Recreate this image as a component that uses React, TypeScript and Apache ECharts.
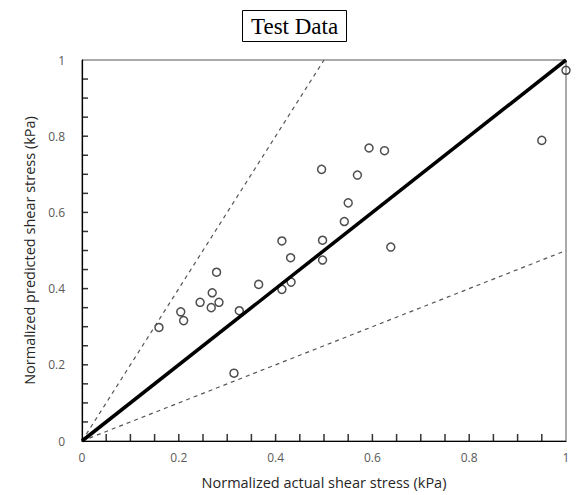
import React, { useEffect, useRef } from "react";
import * as echarts from "echarts";

const actual = [0.159, 0.204, 0.21, 0.244, 0.267, 0.269, 0.283, 0.278, 0.325, 0.314, 0.365, 0.413, 0.432, 0.431, 0.413, 0.497, 0.497, 0.495, 0.593, 0.625, 0.569, 0.55, 0.542, 0.638, 0.95, 1.0];
const predicted = [0.298, 0.339, 0.316, 0.364, 0.35, 0.389, 0.364, 0.443, 0.342, 0.178, 0.411, 0.398, 0.417, 0.481, 0.525, 0.475, 0.527, 0.713, 0.769, 0.762, 0.698, 0.625, 0.576, 0.509, 0.789, 0.973];
const lineOneToOne = [[0, 0], [1, 1]];
const lineUpper = [[0, 0], [0.5, 1]];
const lineLower = [[0, 0], [1, 0.5]];
const tickLabels = ["0", "0.2", "0.4", "0.6", "0.8", "1"];
const tickValues = [0.05, 0.1, 0.15, 0.2, 0.25, 0.3, 0.35, 0.4, 0.45, 0.5, 0.55, 0.6, 0.65, 0.7, 0.75, 0.8, 0.85, 0.9, 0.95];

export default function App() {
  const ref = useRef<HTMLDivElement>(null);
  useEffect(() => {
    if (!ref.current) return;
    const chart = echarts.init(ref.current, null, { renderer: "svg" });
    const fmt = (v: number) => {
      const i = Math.round(v * 5);
      return Math.abs(v * 5 - i) < 1e-6 ? tickLabels[i] : "";
    };
    const axisCommon = {
      type: "value" as const,
      min: 0,
      max: 1,
      interval: 0.05,
      splitLine: { show: false },
      axisLine: { show: true, onZero: false, lineStyle: { color: "#000", width: 1.2 } },
      axisTick: { show: false },
      axisLabel: { formatter: fmt, color: "#595959", fontSize: 12, fontFamily: "Open Sans", margin: 10, showMinLabel: true, showMaxLabel: true, interval: 0 },
      nameLocation: "middle" as const,
      nameTextStyle: { color: "#262626", fontSize: 14.5, fontFamily: "Open Sans" },
    };
    const tickStyle = { color: "#000", borderWidth: 0 };
    chart.setOption({
      animation: false,
      backgroundColor: "#fff",
      title: {
        text: "Test Data",
        left: 242,
        top: 10,
        borderColor: "#000",
        borderWidth: 1,
        padding: [5, 9, 4, 9],
        textStyle: { fontFamily: "Liberation Serif", fontSize: 23, fontWeight: "normal", color: "#000" },
      },
      grid: { left: 82, right: 11, top: 60, bottom: 53, show: true, borderColor: "#555", borderWidth: 1 },
      xAxis: { ...axisCommon, name: "Normalized actual shear stress (kPa)", nameGap: 34 },
      yAxis: { ...axisCommon, name: "Normalized predicted shear stress (kPa)", nameGap: 40, axisLabel: { ...axisCommon.axisLabel, margin: 17 } },
      series: [
        {
          type: "scatter",
          data: tickValues.map((v) => [v, 0]),
          symbol: "rect",
          symbolSize: [1.5, 7],
          symbolOffset: [0, -3.5],
          clip: false,
          silent: true,
          z: 10,
          itemStyle: tickStyle,
        },
        {
          type: "scatter",
          data: tickValues.map((v) => [0, v]),
          symbol: "rect",
          symbolSize: [6, 1.5],
          symbolOffset: [3, 0],
          clip: false,
          silent: true,
          z: 10,
          itemStyle: tickStyle,
        },
        { type: "line", data: lineUpper, showSymbol: false, lineStyle: { color: "#555", width: 1.2, type: [4, 4] } },
        { type: "line", data: lineLower, showSymbol: false, lineStyle: { color: "#555", width: 1.2, type: [4, 4] } },
        { type: "line", data: lineOneToOne, showSymbol: false, lineStyle: { color: "#000", width: 3.5 } },
        {
          type: "scatter",
          data: actual.map((x, i) => [x, predicted[i]]),
          symbol: "circle",
          symbolSize: 8,
          clip: false,
          itemStyle: { color: "rgba(255,255,255,0)", borderColor: "#222", borderWidth: 1.5 },
        },
      ],
    });
    return () => chart.dispose();
  }, []);
  return <div ref={ref} style={{ width: 577, height: 495, position: "absolute", left: 0, top: 0 }} />;
}
